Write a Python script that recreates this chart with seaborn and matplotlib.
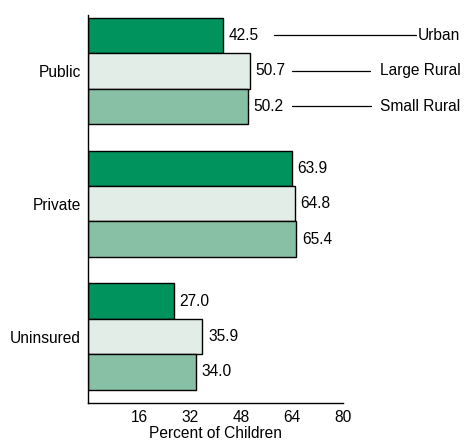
import matplotlib
matplotlib.use("Agg")
import matplotlib.pyplot as plt
import seaborn as sns
import pandas as pd

categories = ["Public", "Private", "Uninsured"]
series = ["Urban", "Large Rural", "Small Rural"]
urban = [42.5, 63.9, 27.0]
large_rural = [50.7, 64.8, 35.9]
small_rural = [50.2, 65.4, 34.0]
xticks = [16, 32, 48, 64, 80]
colors = ["#00935e", "#e3ede8", "#88c0a6"]

rows = []
for s, vals in zip(series, [urban, large_rural, small_rural]):
    for c, v in zip(categories, vals):
        rows.append({"cat": c, "series": s, "val": v})
df = pd.DataFrame(rows)

sns.set_theme(style="white")
plt.rcParams["font.family"] = ["Liberation Sans", "DejaVu Sans"]
plt.rcParams["text.color"] = "black"
plt.rcParams["axes.labelcolor"] = "black"
plt.rcParams["xtick.color"] = "black"
plt.rcParams["ytick.color"] = "black"

FS = 11.2

fig = plt.figure(figsize=(4.66, 4.44), dpi=100)
ax = fig.add_axes([88/466, 41/444, 255/466, 388/444])
sns.barplot(data=df, y="cat", x="val", hue="series", order=categories,
            hue_order=series, palette=colors, saturation=1, orient="h", width=0.8,
            edgecolor="black", linewidth=1.0, ax=ax, legend=False)

ax.set_xlim(0, 80)
ax.set_ylim(2.5, -0.42)
ax.set_xticks(xticks)
ax.set_xticklabels([str(t) for t in xticks], fontsize=FS)
ax.tick_params(axis="x", direction="in", length=9, width=1, color="black",
               labelcolor="black", pad=5)
ax.tick_params(axis="y", length=0, labelsize=FS, labelcolor="black", pad=5)
ax.set_xlabel("Percent of Children", fontsize=FS, labelpad=1, color="black")
ax.set_ylabel("")
for sp in ["top", "right"]:
    ax.spines[sp].set_visible(False)
for sp in ["left", "bottom"]:
    ax.spines[sp].set_color("black")
    ax.spines[sp].set_linewidth(1.0)

# value labels
for cont in ax.containers:
    ax.bar_label(cont, fmt="%.1f", padding=4, fontsize=FS, color="black")

# series labels with leader lines next to the first group
lead = [(58.4, 103.0), (64.0, 88.6), (64.0, 88.8)]
for i, s in enumerate(series):
    bar = ax.containers[i].patches[0]
    yc = bar.get_y() + bar.get_height() / 2
    x0, x1 = lead[i]
    ax.plot([x0, x1], [yc, yc], color="black", lw=0.9, clip_on=False)
    ax.text(116.8, yc, s, ha="right", va="center", fontsize=FS, color="black",
            clip_on=False)

fig.savefig("out.png", dpi=100)
